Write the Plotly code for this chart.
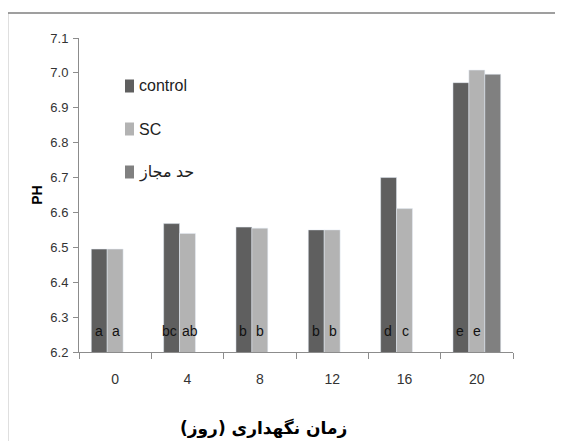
import plotly.graph_objects as go

categories = ["0", "4", "8", "12", "16", "20"]
control = [6.495, 6.568, 6.558, 6.550, 6.700, 6.972]
sc = [6.495, 6.540, 6.555, 6.550, 6.611, 7.008]
limit = [None, None, None, None, None, 6.996]
control_letters = ["a", "bc", "b", "b", "d", "e"]
sc_letters = ["a", "ab", "b", "b", "c", "e"]
series_names = ["control", "SC", "حد مجاز"]
series_colors = ["#5f5f5f", "#b3b3b3", "#808080"]
y_ticks = [6.2, 6.3, 6.4, 6.5, 6.6, 6.7, 6.8, 6.9, 7.0, 7.1]

FONT = "Liberation Sans, DejaVu Sans"

# page body has an 8px margin: all positions below are screen px, figure is offset by 8
W, H = 555, 433
PL, PR, PT, PB = 79, 513, 38, 352  # plot area in screen px


def px(xs):
    return (xs - PL) / (PR - PL)


def py(ys):
    return (PB - ys) / (PB - PT)


fig = go.Figure()
for vals, name, col in zip([control, sc, limit], series_names, series_colors):
    fig.add_trace(go.Bar(x=categories, y=vals, name=name, marker_color=col, showlegend=False))

annotations = []
for i, (a, b) in enumerate(zip(control_letters, sc_letters)):
    sa = -16.5 - (1.5 if len(a) > 1 else 0)
    sb = 0.5 + (1.5 if len(b) > 1 else 0)
    annotations.append(dict(x=i, y=6.26, text=a, showarrow=False, xshift=sa, yanchor="middle",
                            font=dict(family=FONT, size=14, color="#111")))
    annotations.append(dict(x=i, y=6.26, text=b, showarrow=False, xshift=sb, yanchor="middle",
                            font=dict(family=FONT, size=14, color="#111")))
annotations.append(dict(xref="paper", yref="paper", x=px(263), y=py(428), yanchor="middle",
                        text="<b>زمان نگهداری (روز)</b>", showarrow=False,
                        font=dict(family="DejaVu Sans", size=17, color="#000")))

shapes = [
    dict(type="line", xref="paper", yref="paper", x0=px(7.5), x1=px(580),
         y0=py(13), y1=py(13), line=dict(color="#7f7f7f", width=1.5)),
    dict(type="line", xref="paper", yref="paper", x0=px(7.5), x1=px(7.5),
         y0=py(13), y1=py(460), line=dict(color="#7f7f7f", width=1.5)),
]

# manual legend (swatch + text)
legend_y = [86, 129, 172]
for name, col, ly in zip(series_names, series_colors, legend_y):
    shapes.append(dict(type="rect", xref="paper", yref="paper", x0=px(125), x1=px(134),
                       y0=py(ly + 6.5), y1=py(ly - 6.5), fillcolor=col, line=dict(width=0)))
    annotations.append(dict(xref="paper", yref="paper", x=px(137), y=py(ly), xanchor="left",
                            yanchor="middle", text=name, showarrow=False,
                            font=dict(family=FONT, size=16, color="#222")))

fig.update_layout(
    width=W, height=H,
    margin=dict(l=PL - 8, r=W - (PR - 8), t=PT - 8, b=H - (PB - 8)),
    paper_bgcolor="white", plot_bgcolor="white",
    barmode="group", bargap=0.34, bargroupgap=0,
    annotations=annotations,
    shapes=shapes,
    font=dict(family=FONT, color="#333"),
)

fig.update_xaxes(type="category", range=[-0.5, 5.5], showline=True, linecolor="#8c8c8c",
                 linewidth=1, ticks="outside", tickson="boundaries", ticklen=6,
                 tickcolor="#8c8c8c", tickfont=dict(family=FONT, size=14, color="#333"),
                 showgrid=False, ticklabelstandoff=14)
fig.update_yaxes(range=[6.2, 7.1], tickvals=y_ticks, ticktext=[f"{v:.1f}" for v in y_ticks],
                 showline=True, linecolor="#8c8c8c", linewidth=1, ticks="outside", ticklen=5,
                 tickcolor="#8c8c8c", tickfont=dict(family=FONT, size=13, color="#333"),
                 showgrid=False, zeroline=False, ticklabelstandoff=2,
                 title=dict(text="<b>PH</b>", font=dict(family=FONT, size=14, color="#000"),
                            standoff=4))

fig.write_html("out.html")
